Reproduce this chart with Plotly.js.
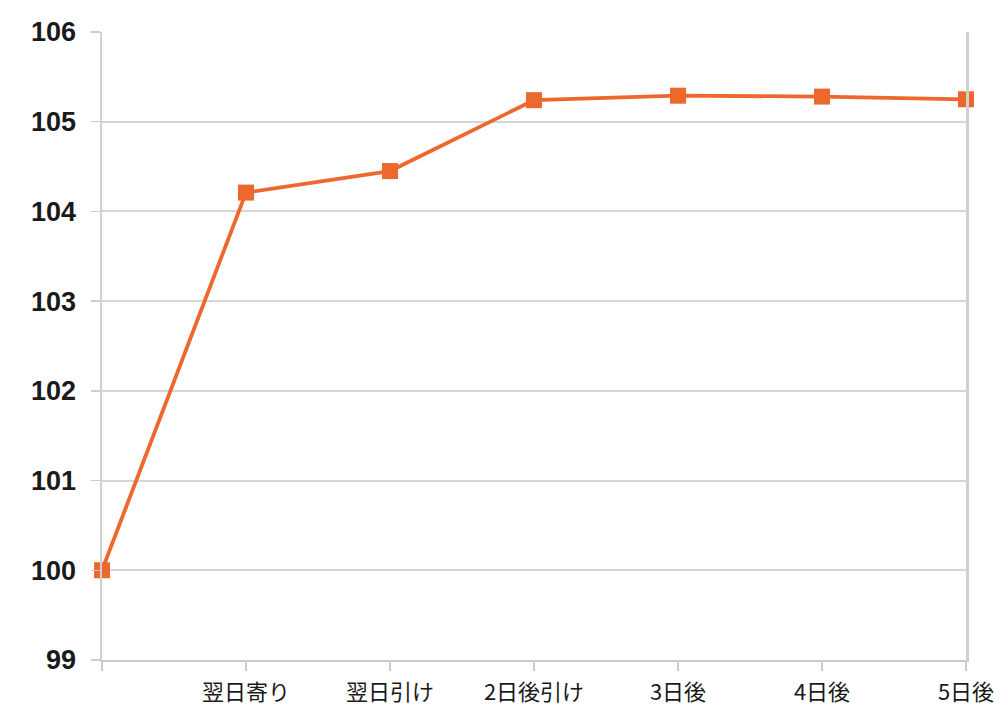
<!DOCTYPE html>
<html>
<head>
<meta charset="utf-8">
<script src="https://cdn.plot.ly/plotly-3.0.1.min.js"></script>
<style>html,body{margin:0;padding:0;background:#fff;}#chart{width:1008px;height:706px;}</style>
</head>
<body>
<div id="chart"></div>
<script>
const categories = ["", "翌日寄り", "翌日引け", "2日後引け", "3日後", "4日後", "5日後"];
const values = [100, 104.21, 104.45, 105.24, 105.29, 105.28, 105.25];
const yTicks = [99, 100, 101, 102, 103, 104, 105, 106];

const xIdx = categories.map((c, i) => i);

const trace = {
  x: xIdx,
  y: values,
  type: 'scatter',
  mode: 'lines+markers',
  line: {color: '#ec682c', width: 3.8},
  marker: {symbol: 'square', size: 16, color: '#ec682c'},
  cliponaxis: false,
  hoverinfo: 'skip'
};

const layout = {
  width: 1008,
  height: 706,
  margin: {l: 102, r: 42, t: 32, b: 46},
  paper_bgcolor: '#ffffff',
  plot_bgcolor: '#ffffff',
  showlegend: false,
  xaxis: {
    range: [0, 6],
    tickvals: xIdx,
    ticktext: categories,
    showgrid: false,
    zeroline: false,
    showline: true,
    linecolor: '#cccccc',
    linewidth: 2,
    ticks: 'outside',
    ticklen: 9,
    tickwidth: 1.5,
    tickcolor: '#cccccc',
    ticklabelstandoff: 3,
    tickfont: {family: '"Noto Sans CJK JP", sans-serif', size: 22, color: '#1a1a1a'}
  },
  yaxis: {
    range: [99, 106],
    tickvals: yTicks,
    ticktext: yTicks.map(String),
    showgrid: true,
    gridcolor: '#d6d6d6',
    gridwidth: 2,
    zeroline: false,
    showline: true,
    mirror: true,
    linecolor: '#d0d0d0',
    linewidth: 2.5,
    ticks: 'outside',
    ticklen: 9,
    tickwidth: 1.5,
    tickcolor: '#cccccc',
    ticklabelstandoff: 9,
    tickfont: {family: '"Liberation Sans", Arial, sans-serif', size: 27, color: '#1a1a1a', weight: 'bold'}
  }
};

Plotly.newPlot('chart', [trace], layout, {displayModeBar: false, staticPlot: true});
</script>
</body>
</html>
